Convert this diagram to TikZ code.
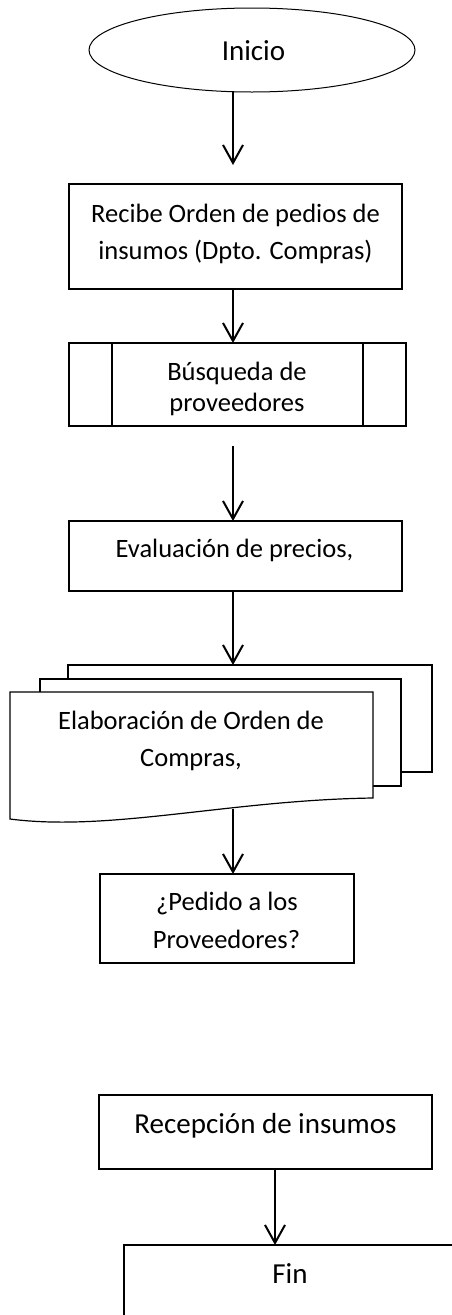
\documentclass[tikz,border=0pt]{standalone}
\usepackage{fontspec}
\setmainfont{Carlito}
\usetikzlibrary{shapes.geometric,arrows.meta}
\begin{document}
\begin{tikzpicture}[x=1pt,y=-1pt,
  box/.style={draw,line width=1.5pt,rectangle,inner sep=0pt,outer sep=0pt},
  txt/.style={anchor=base,inner sep=0pt,font=\fontsize{26.5}{32}\selectfont},
  txtb/.style={anchor=base,inner sep=0pt,font=\fontsize{29}{35}\selectfont},
  flow/.style={line width=2pt,-{Straight Barb[length=18pt,width=20pt]}},
  sheet/.style={draw,line width=1.2pt,fill=white}]
\useasboundingbox (0,0) rectangle (452,1315);

% column coordinates
\coordinate (col) at (233,0);
\coordinate (col2) at (275,0);

% Inicio
\node[ellipse,draw,line width=1pt,inner sep=0pt,outer sep=0pt,minimum width=326pt,minimum height=84pt] (inicio) at (252,50) {};
\node[txtb] (tinicio) at (253.5,60) {Inicio};

% Box 1
\node[box,minimum width=333pt,minimum height=105pt] (n1) at (235.5,236.5) {};
\node[txt] (t1a) at (235.5,222) {Recibe Orden de pedios de};
\node[txt] (t1b) at (235.5,259.5) {insumos (Dpto. Compras)};

% Box 2 predefined process
\node[box,minimum width=337pt,minimum height=83pt] (n2) at (237.5,384.5) {};
\draw[line width=1.2pt] ([xshift=43pt]n2.north west) -- ([xshift=43pt]n2.south west);
\draw[line width=1.8pt] ([xshift=-43pt]n2.north east) -- ([xshift=-43pt]n2.south east);
\node[txt] (t2a) at (237,380) {Búsqueda de};
\node[txt] (t2b) at (237,411) {proveedores};

% Box 3
\node[box,minimum width=333pt,minimum height=70pt] (n3) at (235.5,556) {};
\node[txt] (t3) at (234.5,557) {Evaluación de precios,};

% Multi-document
\draw[sheet] (68,665) rectangle (432,772);
\draw[sheet] (40,679) rectangle (401,786);
\draw[sheet] (10,692) -- (373,692) -- (373,798)
   .. controls (230,800) and (110,832) .. (10,819) -- cycle;
\coordinate (docback) at (233,665);
\coordinate (docfront) at (233,809);
\node[txt] (t4a) at (191,729) {Elaboración de Orden de};
\node[txt] (t4b) at (191,766) {Compras,};

% Box 5
\node[box,minimum width=254pt,minimum height=89pt] (n5) at (227,918.5) {};
\node[txt] (t5a) at (227,910.5) {¿Pedido a los};
\node[txt] (t5b) at (226.5,948) {Proveedores?};

% Box 6
\node[box,minimum width=333pt,minimum height=74pt] (n6) at (265.5,1132) {};
\node[txtb] (t6) at (265.5,1133) {Recepción de insumos};

% Fin
\node[box,minimum width=332pt,minimum height=76pt] (fin) at (290,1283) {};
\node[txtb] (tfin) at (290,1283) {Fin};

% free arrow ends
\coordinate (e1) at (233,165);
\coordinate (s3) at (233,446);

% connectors
\draw[flow] (inicio.south -| col) -- (e1);
\draw[flow] (n1.south -| col) -- (n2.north -| col);
\draw[flow] (s3) -- (n3.north -| col);
\draw[flow] (n3.south -| col) -- (docback);
\draw[flow] (docfront) -- (n5.north -| col);
\draw[flow] (n6.south -| col2) -- (fin.north -| col2);
\end{tikzpicture}
\end{document}
